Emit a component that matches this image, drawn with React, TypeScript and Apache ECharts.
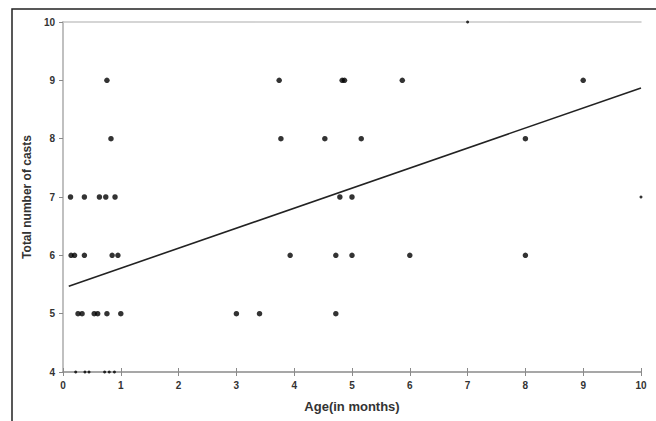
import React, { useEffect, useRef } from "react";
import * as echarts from "echarts";

const ages9 = [0.76, 3.74, 4.83, 4.87, 5.87, 9.0];
const ages8 = [0.83, 3.77, 4.53, 5.16, 8.0];
const ages7 = [0.13, 0.37, 0.63, 0.74, 0.9, 4.79, 5.0, 10];
const ages6 = [0.14, 0.2, 0.37, 0.85, 0.95, 3.93, 4.72, 5.0, 6.0, 8.0];
const ages5 = [0.26, 0.33, 0.54, 0.6, 0.76, 1.0, 3.0, 3.4, 4.72];
const ages4 = [0.22, 0.38, 0.45, 0.72, 0.8, 0.89];
const ages10 = [7.0];

const castLevels = [10, 9, 8, 7, 6, 5, 4];
const agesByLevel = [ages10, ages9, ages8, ages7, ages6, ages5, ages4];

const trendX = [0.1, 10];
const trendY = [5.47, 8.87];

const xTicks = [0, 1, 2, 3, 4, 5, 6, 7, 8, 9, 10];
const yTicks = [4, 5, 6, 7, 8, 9, 10];

export default function App() {
  const ref = useRef<HTMLDivElement>(null);
  useEffect(() => {
    if (!ref.current) return;
    const chart = echarts.init(ref.current, null, { renderer: "svg" });
    const points: number[][] = [];
    castLevels.forEach((c, i) => agesByLevel[i].forEach((a) => points.push([a, c])));
    const font = "Liberation Sans, Arial, sans-serif";
    const axisColor = "#8a8a8a";
    chart.setOption({
      animation: false,
      backgroundColor: "#fff",
      grid: { left: 63, right: 15, top: 22, bottom: 49 },
      graphic: [
        {
          type: "rect",
          shape: { x: 12, y: 9, width: 700, height: 500 },
          style: { fill: "none", stroke: "#222", lineWidth: 1.5 },
          silent: true,
        },
      ],
      xAxis: [
        {
          type: "value",
          min: xTicks[0],
          max: xTicks[xTicks.length - 1],
          interval: 1,
          position: "bottom",
          name: "Age(in months)",
          nameLocation: "middle",
          nameGap: 28,
          nameTextStyle: { fontFamily: font, fontWeight: "bold", fontSize: 13, color: "#333" },
          axisLine: { show: true, lineStyle: { color: axisColor, width: 1.5 } },
          axisTick: { show: true, length: 4, lineStyle: { color: axisColor } },
          axisLabel: { fontFamily: font, fontSize: 10, fontWeight: "bold", color: "#333", margin: 8 },
          splitLine: { show: false },
        },
        {
          type: "value",
          min: 0,
          max: 10,
          interval: 1,
          position: "bottom",
          axisLine: { show: false },
          axisTick: { show: true, inside: true, length: 4, lineStyle: { color: axisColor } },
          axisLabel: { show: false },
          splitLine: { show: false },
        },
        {
          type: "value",
          min: 0,
          max: 10,
          position: "top",
          axisLine: { show: true, lineStyle: { color: "#c8c8c8", width: 1.5 } },
          axisTick: { show: false },
          axisLabel: { show: false },
          splitLine: { show: false },
        },
      ],
      yAxis: [
        {
          type: "value",
          min: yTicks[0],
          max: yTicks[yTicks.length - 1],
          interval: 1,
          position: "left",
          name: "Total number of casts",
          nameLocation: "middle",
          nameGap: 27,
          nameTextStyle: { fontFamily: font, fontWeight: "bold", fontSize: 12, color: "#333" },
          axisLine: { show: true, lineStyle: { color: axisColor, width: 1.5 } },
          axisTick: { show: true, length: 4, lineStyle: { color: axisColor } },
          axisLabel: { fontFamily: font, fontSize: 10, fontWeight: "bold", color: "#333", margin: 8 },
          splitLine: { show: false },
        },
        {
          type: "value",
          min: 4,
          max: 10,
          position: "right",
          axisLine: { show: true, lineStyle: { color: "#c8c8c8", width: 1.5 } },
          axisTick: { show: false },
          axisLabel: { show: false },
          splitLine: { show: false },
        },
      ],
      series: [
        {
          type: "line",
          data: trendX.map((x, i) => [x, trendY[i]]),
          symbol: "none",
          lineStyle: { color: "#222", width: 1.6 },
          z: 3,
        },
        {
          type: "scatter",
          data: points,
          clip: false,
          symbol: "circle",
          symbolSize: (v: number[]) => (v[1] === 4 || v[1] === 10 || v[0] === 10 ? 3 : 5.5),
          itemStyle: { color: "#000" },
          z: 4,
        },
      ],
    });
    return () => chart.dispose();
  }, []);
  return (
    <div
      ref={ref}
      style={{ position: "fixed", left: 0, top: 0, width: 656, height: 421 }}
    />
  );
}
